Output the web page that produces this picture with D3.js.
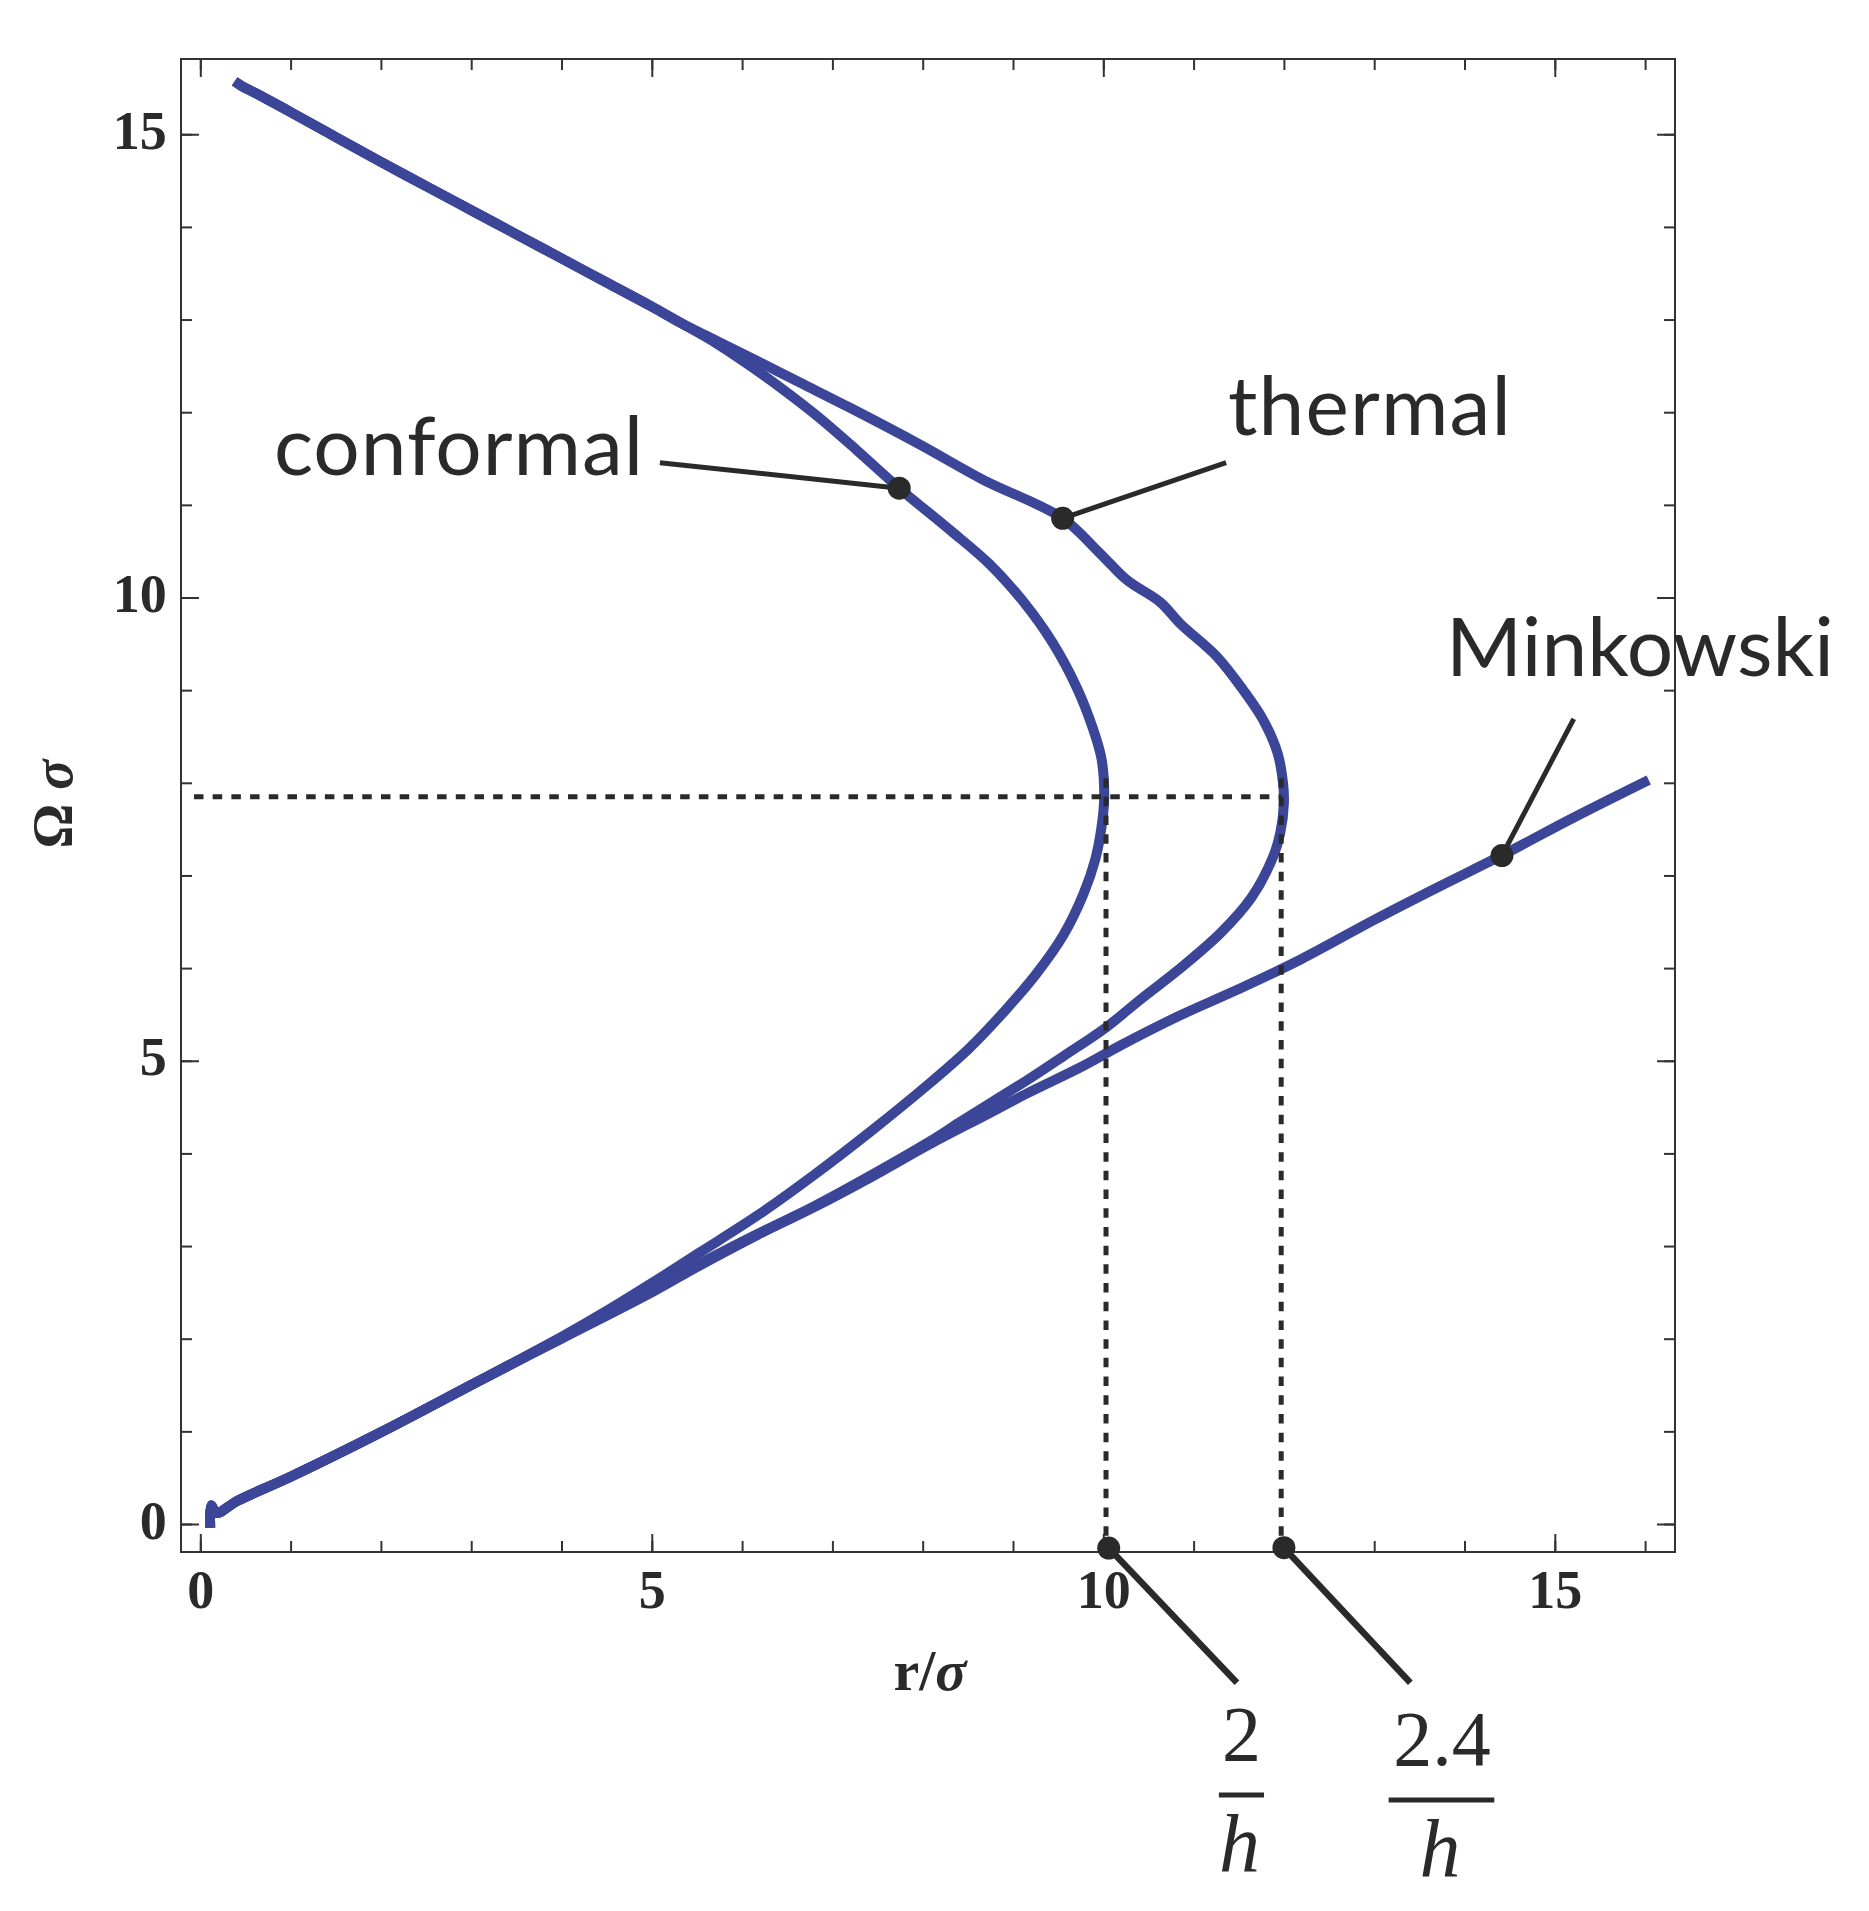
<!DOCTYPE html>
<html>
<head>
<meta charset="utf-8">
<script src="https://cdn.jsdelivr.net/npm/d3@7"></script>
<style>
  html, body { margin: 0; padding: 0; background: #fff; }
  svg { display: block; }
</style>
</head>
<body>
<svg id="chart" width="1869" height="1911"></svg>
<script>
// Curves as [r/sigma, Omega*sigma]
const conformal = [
  [0.38, 15.57], [0.46, 15.52], [0.62, 15.44], [1.0, 15.24], [1.5, 14.97], [2.02, 14.69],
  [2.5, 14.44], [3.0, 14.18], [3.5, 13.92], [4.0, 13.66], [4.5, 13.40], [5.0, 13.14],
  [5.31, 12.97], [5.72, 12.74], [6.09, 12.50], [6.46, 12.24], [6.83, 11.96], [7.27, 11.59],
  [7.74, 11.18], [8.30, 10.73], [8.74, 10.36], [9.11, 9.96], [9.44, 9.51], [9.71, 9.02],
  [9.88, 8.60], [9.98, 8.26], [10.01, 7.85], [9.98, 7.52], [9.91, 7.17], [9.78, 6.80],
  [9.56, 6.36], [9.26, 5.94], [8.92, 5.55], [8.50, 5.12], [8.08, 4.76], [7.44, 4.25],
  [6.80, 3.77], [6.17, 3.33], [5.53, 2.93], [5.0, 2.60], [4.5, 2.30], [4.0, 2.02],
  [3.0, 1.50], [2.0, 0.99], [1.0, 0.51], [0.41, 0.25], [0.18, 0.12], [0.12, 0.2], [0.11, -0.04]
];

const thermal = [
  [0.38, 15.57], [0.46, 15.52], [0.62, 15.44], [1.0, 15.24], [1.5, 14.97], [2.02, 14.69],
  [2.5, 14.44], [3.0, 14.18], [3.5, 13.92], [4.0, 13.66], [4.5, 13.40], [5.0, 13.14],
  [5.31, 12.97], [5.72, 12.77], [6.09, 12.59], [6.64, 12.32], [7.19, 12.05], [7.97, 11.65],
  [8.67, 11.27], [9.55, 10.855], [9.96, 10.48], [10.26, 10.19], [10.63, 9.95], [10.85, 9.72],
  [11.26, 9.36], [11.55, 9.00], [11.77, 8.68], [11.93, 8.32], [11.99, 8.00], [12.00, 7.78],
  [11.96, 7.46], [11.88, 7.20], [11.64, 6.76], [11.30, 6.38], [10.83, 5.98], [10.41, 5.66],
  [10.03, 5.36], [9.56, 5.05], [9.14, 4.78], [8.76, 4.55], [8.40, 4.33], [8.08, 4.13],
  [7.44, 3.77], [6.80, 3.43], [6.17, 3.13], [5.53, 2.81], [5.0, 2.53], [4.0, 2.01],
  [3.0, 1.50], [2.0, 0.99], [1.0, 0.51], [0.41, 0.25], [0.18, 0.12], [0.12, 0.2], [0.11, -0.04]
];

const minkowski = [
  [0.11, -0.04], [0.12, 0.2], [0.18, 0.12], [0.41, 0.25], [1.0, 0.51], [2.0, 0.99],
  [3.0, 1.50], [4.0, 2.00], [5.0, 2.50], [5.53, 2.79], [6.17, 3.12], [6.80, 3.42],
  [7.44, 3.75], [8.08, 4.10], [8.71, 4.42], [9.14, 4.64], [9.77, 4.94], [10.20, 5.17],
  [10.83, 5.48], [11.47, 5.76], [12.18, 6.09], [13.0, 6.52], [13.7, 6.87], [14.42, 7.22],
  [15.2, 7.62], [16.04, 8.03]
];

// turning points (dashed guides)
const turnOmega = 7.85;
const turnR = [10.03, 11.97];

// ticks
const xMajor = [0, 5, 10, 15];
const yMajor = [0, 5, 10, 15];
const xMinor = [0, 1, 2, 3, 4, 5, 6, 7, 8, 9, 10, 11, 12, 13, 14, 15, 16];
const yMinor = [0, 1, 2, 3, 4, 5, 6, 7, 8, 9, 10, 11, 12, 13, 14, 15];

// labels
const curveLabels = ["conformal", "thermal", "Minkowski"];
const fracLabels = [["2", "h"], ["2.4", "h"]];

// ---------- layout ----------
const frame = { left: 181, right: 1675, top: 59, bottom: 1552 };
const ink = "#2a2a2a";
const blue = "#3c4698";
const serif = "'Liberation Serif', 'Times New Roman', Times, serif";
const sans = "Lato, 'Open Sans', sans-serif";

const svg = d3.select("#chart");
svg.append("rect").attr("width", 1869).attr("height", 1911).attr("fill", "#fff");

const x = d3.scaleLinear().domain([0, 15]).range([200.3, 1554.8]);
const y = d3.scaleLinear().domain([0, 15]).range([1524, 134.25]);

// frame
svg.append("rect")
  .attr("x", frame.left).attr("y", frame.top)
  .attr("width", frame.right - frame.left).attr("height", frame.bottom - frame.top)
  .attr("fill", "none").attr("stroke", "#333").attr("stroke-width", 2);

function drawAxis(gen, tx, ty, vals, size, withLabels) {
  const g = svg.append("g").attr("transform", `translate(${tx},${ty})`);
  gen.tickValues(vals).tickSize(size);
  if (!withLabels) gen.tickFormat("");
  g.call(gen);
  g.select(".domain").remove();
  g.attr("color", "#333")
    .attr("font-family", serif)
    .attr("font-size", 54)
    .attr("font-weight", "bold");
  g.selectAll(".tick line").attr("stroke-width", 2);
  g.selectAll(".tick text").attr("fill", ink);
  return g;
}

drawAxis(d3.axisBottom(x), 0, frame.bottom, xMinor, -11, false);
drawAxis(d3.axisBottom(x).tickPadding(18).tickFormat(d3.format("d")), 0, frame.bottom, xMajor, -18, true);
drawAxis(d3.axisTop(x), 0, frame.top, xMinor, -11, false);
drawAxis(d3.axisTop(x), 0, frame.top, xMajor, -18, false);
drawAxis(d3.axisLeft(y), frame.left, 0, yMinor, -11, false);
drawAxis(d3.axisLeft(y).tickPadding(14.3).tickFormat(d3.format("d")), frame.left, 0, yMajor, -18, true)
  .selectAll(".tick text").attr("dy", "0.26em");
drawAxis(d3.axisRight(y), frame.right, 0, yMinor, -11, false);
drawAxis(d3.axisRight(y), frame.right, 0, yMajor, -18, false);

// axis labels
const xl = svg.append("text")
  .attr("x", 930).attr("y", 1690)
  .attr("text-anchor", "middle")
  .attr("font-family", serif).attr("font-weight", "bold").attr("font-size", 58)
  .attr("fill", ink);
xl.append("tspan").text("r/");
xl.append("tspan").attr("font-style", "italic").text("σ");

const yl = svg.append("text")
  .attr("transform", "translate(72,804) rotate(-90)")
  .attr("text-anchor", "middle")
  .attr("font-family", serif).attr("font-weight", "bold").attr("font-size", 56)
  .attr("fill", ink);
yl.append("tspan").text("Ω ");
yl.append("tspan").attr("font-style", "italic").text("σ");

// curves
const line = d3.line()
  .x(d => x(d[0]))
  .y(d => y(d[1]))
  .curve(d3.curveCatmullRom.alpha(0.5));

svg.append("g")
  .selectAll("path")
  .data([conformal, thermal, minkowski])
  .join("path")
  .attr("d", line)
  .attr("fill", "none")
  .attr("stroke", blue)
  .attr("stroke-width", 10)
  .attr("stroke-linejoin", "round");

// dashed guides
const straight = d3.line().x(d => x(d[0])).y(d => y(d[1]));
const guides = [[[-0.07, turnOmega], [turnR[1], turnOmega]]]
  .concat(turnR.map(r => [[r, 8.05], [r, -0.26]]));
svg.append("g")
  .selectAll("path")
  .data(guides)
  .join("path")
  .attr("d", straight)
  .attr("fill", "none")
  .attr("stroke", ink)
  .attr("stroke-width", 5)
  .attr("stroke-dasharray", "9.5 9.2");

// leaders and dots: dot on curve -> end of leader
const leaders = [
  { dot: [7.74, 11.18], end: [5.09, 11.455], w: 5 },
  { dot: [9.55, 10.855], end: [11.36, 11.455], w: 5 },
  { dot: [14.415, 7.215], end: [15.21, 8.69], w: 5 },
  { dot: [10.06, -0.26], end: [11.48, -1.713], w: 6.5 },
  { dot: [12.0, -0.256], end: [13.40, -1.713], w: 6.5 }
];
const lg = svg.append("g");
lg.selectAll("line")
  .data(leaders)
  .join("line")
  .attr("x1", d => x(d.dot[0])).attr("y1", d => y(d.dot[1]))
  .attr("x2", d => x(d.end[0])).attr("y2", d => y(d.end[1]))
  .attr("stroke", ink)
  .attr("stroke-width", d => d.w);
lg.selectAll("circle")
  .data(leaders)
  .join("circle")
  .attr("cx", d => x(d.dot[0])).attr("cy", d => y(d.dot[1]))
  .attr("r", 11.5)
  .attr("fill", ink);

// curve labels
const labelPos = [[0.816, 11.32, 369], [11.38, 11.75, 283], [13.795, 9.15, 388]];
svg.append("g")
  .selectAll("text")
  .data(curveLabels)
  .join("text")
  .attr("x", (d, i) => x(labelPos[i][0]))
  .attr("y", (d, i) => y(labelPos[i][1]))
  .attr("textLength", (d, i) => labelPos[i][2])
  .attr("font-family", sans)
  .attr("font-size", 82)
  .attr("fill", ink)
  .text(d => d);

// fraction labels 2/h and 2.4/h
const fracPos = [
  { cx: 11.53, num: -2.547, bar: -2.925, barX: [11.28, 11.78], den: -3.742 },
  { cx: 13.75, num: -2.60, bar: -2.98, barX: [13.16, 14.33], den: -3.80 }
];
const fg = svg.append("g");
fracLabels.forEach((f, i) => {
  const p = fracPos[i];
  fg.append("text")
    .attr("x", x(p.cx)).attr("y", y(p.num))
    .attr("text-anchor", "middle")
    .attr("font-family", serif)
    .attr("font-size", 78)
    .attr("fill", ink)
    .text(f[0]);
  fg.append("line")
    .attr("x1", x(p.barX[0])).attr("x2", x(p.barX[1]))
    .attr("y1", y(p.bar)).attr("y2", y(p.bar))
    .attr("stroke", ink).attr("stroke-width", 5);
  fg.append("text")
    .attr("x", x(p.cx) - 2).attr("y", y(p.den))
    .attr("text-anchor", "middle")
    .attr("font-family", serif)
    .attr("font-size", 82)
    .attr("font-style", "italic")
    .attr("fill", ink)
    .text(f[1]);
});
</script>
</body>
</html>
